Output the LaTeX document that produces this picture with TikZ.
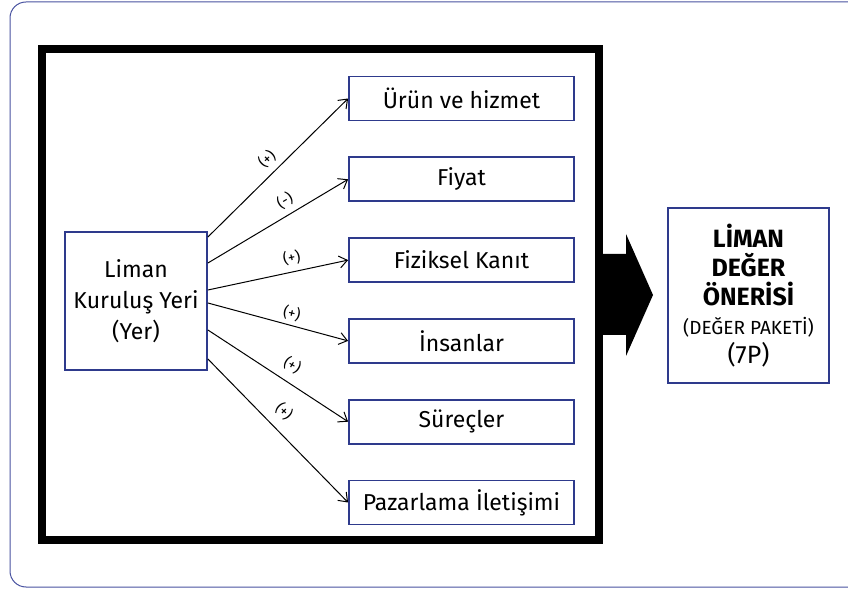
\documentclass[tikz,border=0pt]{standalone}
\usepackage{fontspec}
\setmainfont{Fira Sans}
\usetikzlibrary{positioning,arrows.meta}
\definecolor{kutumavi}{RGB}{46,58,140}
\definecolor{cerceve}{RGB}{72,82,160}

\tikzset{
  kutu/.style={draw=kutumavi, line width=1.8pt, fill=white, minimum width=225pt,
    minimum height=44pt, inner sep=0pt, font=\fontsize{23}{26}\selectfont},
  etki/.style={anchor=south, inner sep=6pt, font=\fontsize{15}{17}\selectfont},
}

\begin{document}
\begin{tikzpicture}[x=1pt,y=1pt,>={Straight Barb[length=8pt,width=12pt]}]
  \useasboundingbox (0,0) rectangle (848,589);
  \draw[cerceve, line width=1pt, rounded corners=16pt] (10,2) rectangle (870,587);
  \draw[line width=8pt] (42,49) rectangle (599,540);

  % kaynak kutusu
  \node[kutu, minimum width=142pt, minimum height=138pt, align=center,
    font=\fontsize{23}{31}\selectfont] (yer) at (136,288) {Liman\\Kuruluş Yeri\\(Yer)};

  % 7P kutulari
  \node[kutu] (urun) at (461.5,490.5) {Ürün ve hizmet};
  \node[kutu, below=35pt of urun] (fiyat) {Fiyat};
  \node[kutu, below=35pt of fiyat] (kanit) {Fiziksel Kanıt};
  \node[kutu, below=35pt of kanit] (insan) {İnsanlar};
  \node[kutu, below=35pt of insan] (surec) {Süreçler};
  \node[kutu, below=35pt of surec] (iletisim) {Pazarlama İletişimi};

  \begin{scope}[line width=1pt]
  \draw[->] ([yshift=64pt]yer.east) -- (urun.west) node[etki, pos=0.49, rotate=44] {(+)};
  \draw[->] ([yshift=38pt]yer.east) -- (fiyat.west) node[etki, pos=0.6, rotate=31] {(-)};
  \draw[->] ([yshift=11pt]yer.east) -- (kanit.west) node[etki, pos=0.62, rotate=13] {(+)};
  \draw[->] ([yshift=-2pt]yer.east) -- (insan.west) node[etki, pos=0.58, rotate=-13, inner sep=4pt] {(+)};
  \draw[->] ([yshift=-29pt]yer.east) -- (surec.west) node[etki, pos=0.54, rotate=-31, inner sep=9pt] {(+)};
  \draw[->] ([yshift=-58pt]yer.east) -- (iletisim.west) node[etki, pos=0.455, rotate=-44, inner sep=10pt] {(+)};
  \end{scope}

  % buyuk ok
  \fill (602,335) -- (626,335) -- (626,355) -- (653,294) -- (626,233)
    -- (626,254) -- (602,254) -- cycle;

  \node[kutu, minimum width=161pt, minimum height=175pt, align=center,
    font=\fontsize{25}{29}\selectfont] (deger) at (748.5,293.5)
    {\textbf{LİMAN}\\\textbf{DEĞER}\\\textbf{ÖNERİSİ}\\{\fontsize{19}{19}\selectfont(DEĞER PAKETİ)}\\(7P)};
\end{tikzpicture}
\end{document}
